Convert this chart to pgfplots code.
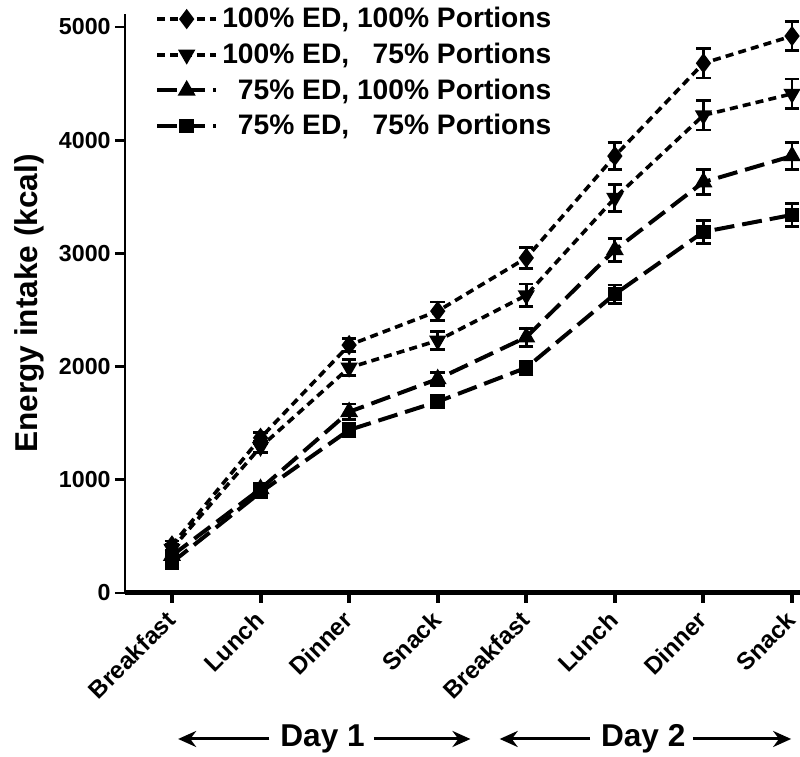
\documentclass[border=0pt]{standalone}
\usepackage{pgfplots}
\pgfplotsset{compat=1.18}
\usepackage{fontspec}
\setmainfont{Liberation Sans}
\usetikzlibrary{arrows.meta}
\begin{document}
\begin{tikzpicture}
\begin{axis}[
  scale only axis,
  width=337.5pt, height=289.5pt,
  xmin=-0.53, xmax=7.09,
  ymin=0, ymax=5115,
  axis lines*=left,
  x axis line style={line width=2.5pt},
  y axis line style={line width=1.3pt},
  xtick={0,1,2,3,4,5,6,7},
  xticklabels={Breakfast,Lunch,Dinner,Snack,Breakfast,Lunch,Dinner,Snack},
  ytick={0,1000,2000,3000,4000,5000},
  tick align=outside,
  x tick style={line width=2pt, black},
  y tick style={line width=1.3pt, black},
  xtick pos=bottom, ytick pos=left,
  major tick length=5pt,
  /pgf/number format/assume math mode=true,
  /pgf/number format/1000 sep={},
  yticklabel style={font=\bfseries\fontsize{11.6}{13}\selectfont, inner sep=2pt},
  xticklabel style={font=\bfseries\fontsize{12.1}{13}\selectfont, yshift=-5pt, xshift=1pt, rotate=45, anchor=east, inner sep=2pt},
  ylabel={Energy intake (kcal)},
  ylabel style={at={(axis description cs:0,0.5)}, anchor=center, yshift=48pt, font=\bfseries\fontsize{15.8}{17}\selectfont},
  clip=false,
  legend cell align=left,
  legend style={draw=none, fill=none, at={(axis description cs:0.044,1.019)}, anchor=north west,
    font=\bfseries\fontsize{14.1}{16}\selectfont, row sep=2.1pt, inner sep=0pt},
  legend image code/.code={\draw[mark repeat=2,mark phase=2] plot coordinates {(0cm,0cm) (0.52cm,0cm) (1.04cm,0cm)};},
  error bars/error bar style={line width=1.4pt, solid, black},
  error bars/error mark options={rotate=90, mark size=3.6pt, line width=1.4pt, solid, black},
]
\addplot[black, line width=1.8pt, dash pattern=on 4pt off 2.6pt, mark=diamond*, mark size=3.6pt, mark options={solid},
  error bars/.cd, y dir=both, y explicit]
  coordinates {(0,420) +- (0,40) (1,1370) +- (0,50) (2,2190) +- (0,60) (3,2490) +- (0,80)
               (4,2960) +- (0,90) (5,3860) +- (0,120) (6,4680) +- (0,130) (7,4920) +- (0,130)};
\addlegendentry{100\% ED, 100\% Portions}
\addplot[black, line width=1.8pt, dash pattern=on 4pt off 2.6pt, mark=triangle*, mark size=3.2pt, mark options={solid, rotate=180},
  error bars/.cd, y dir=both, y explicit]
  coordinates {(0,390) +- (0,40) (1,1290) +- (0,50) (2,1990) +- (0,70) (3,2230) +- (0,80)
               (4,2630) +- (0,100) (5,3490) +- (0,120) (6,4220) +- (0,130) (7,4410) +- (0,130)};
\addlegendentry{100\% ED, \phantom{1}75\% Portions}
\addplot[black, line width=2pt, dash pattern=on 10pt off 4pt, mark=triangle*, mark size=3.2pt, mark options={solid},
  error bars/.cd, y dir=both, y explicit]
  coordinates {(0,330) +- (0,40) (1,920) +- (0,50) (2,1600) +- (0,70) (3,1890) +- (0,60)
               (4,2260) +- (0,80) (5,3030) +- (0,100) (6,3630) +- (0,110) (7,3860) +- (0,120)};
\addlegendentry{\phantom{1}75\% ED, 100\% Portions}
\addplot[black, line width=2pt, dash pattern=on 10pt off 4pt, mark=square*, mark size=2.6pt, mark options={solid},
  error bars/.cd, y dir=both, y explicit]
  coordinates {(0,270) +- (0,40) (1,890) +- (0,40) (2,1440) +- (0,60) (3,1690) +- (0,50)
               (4,1990) +- (0,60) (5,2640) +- (0,80) (6,3190) +- (0,100) (7,3340) +- (0,100)};
\addlegendentry{\phantom{1}75\% ED, \phantom{1}75\% Portions}
% Day annotations
\draw[line width=1.5pt, -{Stealth[length=9pt, width=8pt]}] ([yshift=-73pt]axis cs:1.1,0) -- ([yshift=-73pt]axis cs:0.07,0);
\draw[line width=1.5pt, -{Stealth[length=9pt, width=8pt]}] ([yshift=-73pt]axis cs:2.28,0) -- ([yshift=-73pt]axis cs:3.37,0);
\node[font=\bfseries\fontsize{15.8}{17}\selectfont] at ([yshift=-73pt]axis cs:1.7,0) {Day 1};
\draw[line width=1.5pt, -{Stealth[length=9pt, width=8pt]}] ([yshift=-73pt]axis cs:4.72,0) -- ([yshift=-73pt]axis cs:3.7,0);
\draw[line width=1.5pt, -{Stealth[length=9pt, width=8pt]}] ([yshift=-73pt]axis cs:5.88,0) -- ([yshift=-73pt]axis cs:6.99,0);
\node[font=\bfseries\fontsize{15.8}{17}\selectfont] at ([yshift=-73pt]axis cs:5.32,0) {Day 2};
\coordinate (SW) at (rel axis cs:0,0);
\coordinate (NE) at (rel axis cs:1,1);
\end{axis}
\pgfresetboundingbox
\path ([xshift=-62.5pt, yshift=-82pt]SW) rectangle ([yshift=7pt]NE);
\end{tikzpicture}
\end{document}
